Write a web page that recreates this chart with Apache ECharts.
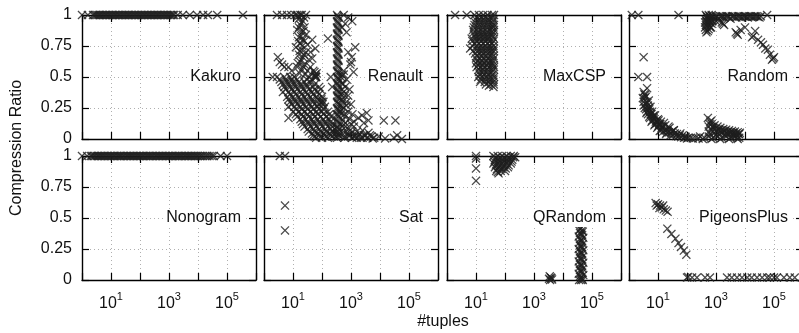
<!DOCTYPE html>
<html><head><meta charset="utf-8">
<script src="https://cdn.jsdelivr.net/npm/echarts@6/dist/echarts.min.js"></script>
<style>html,body{margin:0;padding:0;background:#fff}#c{width:799px;height:333px}</style>
</head><body><div id="c"></div>
<script>
const panelNames = ['Kakuro','Renault','MaxCSP','Random','Nonogram','Sat','QRandom','PigeonsPlus'];
const labeledDecades = [1,3,5];
const yTickValues = [0,0.25,0.5,0.75,1];

const kakuro = [[1,1],[1.6,1],[2.4,1],[2.7,1],[3,1],[3.4,1],[3.8,1],[4.2,1],[4.7,1],[5.3,1],[6,1],[6.7,1],[7.5,1],[8.5,1],[9.5,1],[10.7,1],[12,1],[13.5,1],[15,1],[17,1],[19,1],[21,1],[24,1],[27,1],[30,1],[34,1],[38,1],[42,1],[47,1],[53,1],[60,1],[67,1],[75,1],[85,1],[95,1],[107,1],[120,1],[135,1],[150,1],[170,1],[190,1],[213,1],[240,1],[270,1],[300,1],[340,1],[380,1],[425,1],[470,1],[535,1],[600,1],[675,1],[750,1],[850,1],[950,1],[1070,1],[1200,1],[1350,1],[1500,1],[2000,1],[3000,1],[5200,1],[9300,1],[15000,1],[22000,1],[46000,1],[355000,1]];

const renault = [
[2.8,1],[4.2,1],[6.2,1],[8.7,1],[12,1],[18,1],
[14,1],[20,1],[28,1],[16,0.97],[22,0.95],[18,0.92],[25,0.9],[14,0.88],[20,0.86],[28,0.84],[16,0.82],[22,0.8],[18,0.77],[32,0.76],[12.6,0.74],[20,0.72],[28,0.7],[16,0.68],[22,0.66],[35,0.64],[18,0.62],[25,0.6],[14,0.58],[20,0.56],[32,0.55],
[15,0.99],[24,0.98],[19,0.94],[16,0.9],[23,0.87],[19,0.83],[15,0.79],[25,0.79],[21,0.75],[17,0.71],[24,0.68],[19,0.64],[15,0.61],[23,0.58],[17,0.53],[26,0.52],
[46,0.8],[59,0.73],[46,0.65],[40,0.7],[3,0.66],[3.5,0.62],[4.2,0.6],
[5,0.58],[7,0.58],[40,0.58],[9,0.55],[50,0.55],
[2,0.5],[2.8,0.5],[5,0.5],[8,0.5],[11,0.5],[35,0.5],[56,0.5],[63,0.5],
[58,0.52],[62,0.5],[55,0.54],[65,0.53],[60,0.51],
[4,0.46],[6.3,0.46],[10,0.46],[16,0.46],[25,0.46],[40,0.46],
[3.5,0.48],[5.6,0.48],[9,0.48],[14,0.48],[30,0.48],[45,0.48],
[4.5,0.44],[7,0.44],[11,0.44],[18,0.44],[28,0.44],[56,0.44],
[5,0.42],[8,0.42],[12.6,0.42],[20,0.42],[32,0.42],[50,0.42],[80,0.42],
[5.6,0.4],[9,0.4],[14,0.4],[22,0.4],[36,0.4],[56,0.4],[90,0.4],
[4.5,0.38],[7,0.38],[11,0.38],[18,0.38],[28,0.38],[45,0.38],[70,0.38],
[8,0.36],[12.6,0.36],[20,0.36],[32,0.36],[50,0.36],[80,0.36],
[6.3,0.34],[10,0.34],[16,0.34],[25,0.34],[40,0.34],[63,0.34],[100,0.34],
[7,0.32],[11,0.32],[18,0.32],[28,0.32],[45,0.32],[71,0.32],
[8,0.3],[12.6,0.3],[20,0.3],[32,0.3],[50,0.3],[90,0.3],[100,0.3],[112,0.3],[95,0.32],[105,0.28],
[9,0.28],[14,0.28],[22,0.28],[36,0.28],[56,0.28],[80,0.28],
[7,0.26],[11,0.26],[18,0.26],[28,0.26],[45,0.26],[70,0.26],[126,0.26],
[12.6,0.24],[20,0.24],[32,0.24],[50,0.24],[80,0.24],[112,0.24],
[10,0.22],[16,0.22],[25,0.22],[40,0.22],[63,0.22],[100,0.22],[160,0.22],
[12.6,0.2],[20,0.2],[32,0.2],[50,0.2],[71,0.2],[112,0.2],[180,0.2],
[7,0.17],[14,0.18],[22,0.18],[35,0.18],[56,0.18],[90,0.18],[140,0.18],[200,0.18],
[18,0.16],[28,0.16],[45,0.16],[71,0.16],[112,0.16],[180,0.16],
[20,0.14],[32,0.14],[50,0.14],[80,0.14],[126,0.14],[200,0.14],
[22,0.12],[36,0.12],[56,0.12],[90,0.12],[140,0.12],[224,0.12],
[25,0.1],[40,0.1],[63,0.1],[100,0.1],[160,0.1],[224,0.1],
[32,0.08],[50,0.08],[80,0.08],[126,0.08],[200,0.08],[280,0.08],
[35,0.06],[56,0.06],[90,0.06],[140,0.06],[224,0.06],
[45,0.045],[71,0.045],[112,0.045],[180,0.045],[280,0.045],
[50,0.03],[80,0.03],[126,0.03],[200,0.03],
[56,0.02],[90,0.02],[140,0.02],[224,0.02],[300,0.02],
[63,0.01],[100,0.01],[160,0.01],
[330,1],[330,0.95],[330,0.9],[330,0.85],[330,0.8],[330,0.75],[330,0.7],[330,0.65],[330,0.6],[330,0.55],[330,0.5],[330,0.45],[330,0.4],[330,0.35],[330,0.3],[330,0.25],[330,0.2],[330,0.15],[330,0.1],[330,0.05],[330,0.01],
[370,0.98],[370,0.93],[370,0.88],[370,0.83],[370,0.78],[370,0.73],[370,0.68],[370,0.63],[370,0.58],[370,0.53],[370,0.48],[370,0.43],[370,0.38],[370,0.33],[370,0.28],[370,0.23],[370,0.18],[370,0.13],[370,0.08],[370,0.03],
[350,0.99],[350,0.94],[350,0.89],[350,0.84],[350,0.79],[350,0.74],[350,0.69],[350,0.64],[350,0.59],[350,0.54],[350,0.49],[350,0.44],[350,0.39],[350,0.34],[350,0.29],[350,0.24],[350,0.19],[350,0.14],[350,0.09],[350,0.04],
[560,1],[800,0.98],[1100,0.95],[630,0.93],[160,0.81],[1400,0.74],[200,0.5],[224,0.42],[1070,0.66],[950,0.6],[1230,0.54],[800,0.7],[1000,0.62],[700,0.86],[500,0.9],
[560,0.52],[710,0.48],[500,0.45],[630,0.42],[890,0.4],[560,0.38],[800,0.35],[500,0.32],[710,0.3],[1000,0.28],[560,0.25],[800,0.22],[1120,0.2],[630,0.18],[890,0.16],[1260,0.14],[450,0.5],[450,0.36],[450,0.27],[450,0.2],
[420,0.47],[480,0.4],[420,0.33],[520,0.3],[470,0.24],[600,0.2],[420,0.22],[520,0.15],[650,0.1],[450,0.12],[560,0.06],[750,0.05],[900,0.03],[1100,0.06],[1300,0.02],[700,0.27],[620,0.35],[520,0.44],[560,0.55],[480,0.52],
[500,0.1],[800,0.08],[1260,0.1],[1580,0.06],[2000,0.04],[2500,0.07],[3200,0.03],[4000,0.05],[5000,0.02],[6300,0.01],[1000,0.04],[630,0.02],[1580,0.01],[400,0.05],[2500,0.01],[1000,0.12],[630,0.13],
[450,0.02],[600,0.01],[800,0.03],[1100,0.01],[1400,0.03],[1800,0.02],[2200,0.01],[2800,0.03],[3600,0.01],[4500,0.03],[5600,0.005],
[2400,0.19],[3500,0.21],[4000,0.15],[2800,0.13],[1800,0.17],[13500,0.15],[34000,0.15],[9000,0.02],[15000,0.005],[30000,0.01],[39000,0.03],[57000,0]
];

const maxcsp = [
[1.9,1],[4.8,1],
[8.9,1],[12.6,1],[17.8,1],[25,1],[35.5,1],[41.7,1],
[10.5,0.98],[15,0.98],[21,0.98],[30,0.98],[38,0.98],
[10,0.96],[14,0.96],[20,0.96],[28,0.96],[40,0.96],
[9.5,0.94],[13.3,0.94],[19,0.94],[26.6,0.94],[37.6,0.94],
[8.9,0.92],[12.6,0.92],[17.8,0.92],[25,0.92],[35.5,0.92],[41.7,0.92],
[8.4,0.9],[11.9,0.9],[16.8,0.9],[23.7,0.9],[33.5,0.9],[40,0.9],
[7.9,0.88],[11.2,0.88],[15.8,0.88],[22.4,0.88],[31.6,0.88],[41.7,0.88],
[8.4,0.86],[11.9,0.86],[16.8,0.86],[23.7,0.86],[33.5,0.86],[40,0.86],
[8.9,0.84],[12.6,0.84],[17.8,0.84],[25,0.84],[35.5,0.84],
[9.4,0.825],[13.3,0.825],[18.8,0.825],[26.6,0.825],[37.6,0.825],
[7.1,0.81],[10,0.81],[14,0.81],[20,0.81],[28,0.81],[41.7,0.81],
[7.5,0.79],[10.6,0.79],[15,0.79],[21,0.79],[30,0.79],[40,0.79],
[8.9,0.77],[12.6,0.77],[17.8,0.77],[25,0.77],[35.5,0.77],
[7.5,0.75],[10.6,0.75],[15,0.75],[21,0.75],[30,0.75],[40,0.75],
[6.3,0.73],[11.2,0.73],[15.8,0.73],[22.4,0.73],[31.6,0.73],[41.7,0.73],
[8,0.71],[11.9,0.71],[16.8,0.71],[23.7,0.71],[33.5,0.71],[40,0.71],
[9.3,0.69],[12.6,0.69],[17.8,0.69],[25,0.69],[35.5,0.69],
[10.6,0.67],[15,0.67],[21,0.67],[30,0.67],[40,0.67],
[10,0.65],[14,0.65],[20,0.65],[28,0.65],[41.7,0.65],
[11.2,0.63],[16,0.63],[22,0.63],[31,0.63],[38,0.63],
[10,0.61],[12.6,0.61],[17.8,0.61],[25,0.61],[35.5,0.61],
[11.9,0.595],[16.8,0.595],[23.7,0.595],[33.5,0.595],[40,0.595],
[10.5,0.58],[14,0.58],[20,0.58],[28,0.58],[41.7,0.58],
[12.6,0.56],[17.8,0.56],[25,0.56],[35,0.56],[41,0.56],
[12.6,0.54],[17.8,0.54],[25,0.54],[35.5,0.54],
[13.3,0.52],[18.8,0.52],[26.6,0.52],[37.6,0.52],
[12,0.5],[15.8,0.5],[22.4,0.5],[31.6,0.5],[41.7,0.5],
[15,0.48],[21,0.48],[30,0.48],[40,0.48],
[13.8,0.46],[20,0.46],[28,0.46],[40,0.46],
[22,0.44],[32,0.44],[41,0.44],
[28,0.43],[40,0.42]
];

const random = [
[1.25,1],[2.1,1],[51,1],[58000,1],
[3.2,0.66],[2.1,0.5],[4.2,0.5],
[3.2,0.38],[3.5,0.33],[4,0.3],[3.2,0.3],[4.5,0.27],[3.5,0.25],[5,0.24],[4,0.21],[5.6,0.2],[6.3,0.22],[5,0.18],[7.1,0.17],[7.9,0.19],[6.3,0.15],[8.9,0.15],[10,0.16],[7.9,0.12],[11.2,0.12],[12.6,0.14],[10,0.1],[14,0.1],[17.8,0.11],[12.6,0.07],[17.8,0.07],[25,0.09],[20,0.05],[28,0.05],[35,0.07],[32,0.03],[45,0.04],[50,0.02],[71,0.03],[79,0.01],[112,0.01],[158,0.005],
[4.2,0.41],[3.6,0.355],[4.8,0.31],[3.2,0.27],[5.5,0.26],[4.2,0.22],[7.1,0.19],[10.5,0.15],[16,0.13],[23,0.1],[35,0.07],[59,0.045],[87,0.02],
[3.4,0.36],[3.8,0.34],[3,0.33],[4.3,0.29],[3.7,0.28],[4.7,0.25],[3.9,0.24],[5.3,0.22],[4.5,0.2],[6,0.2],[5.3,0.17],[6.7,0.18],[7.5,0.16],[6,0.14],[8.4,0.14],[9.4,0.13],[7.5,0.11],[10.6,0.11],[12,0.12],[9.4,0.09],[13.3,0.09],[15,0.1],[11.5,0.065],[15,0.06],[21,0.075],[19,0.04],[24,0.055],[30,0.06],[27,0.03],[38,0.045],[42,0.025],[56,0.03],[63,0.015],[89,0.015],[100,0.005],[134,0.01],
[200,0.01],[282,0.02],[398,0.01],[562,0.02],[794,0.01],[1122,0.02],[1585,0.01],[2239,0.02],[3162,0.01],[4467,0.02],[6310,0.01],[6310,0.04],[4000,0.05],[250,0.005],[350,0],[700,0],[1400,0],[2800,0],[5600,0],
[525,0.17],[631,0.14],[708,0.12],[891,0.11],[1122,0.1],[1413,0.09],[1778,0.08],[2239,0.075],[2818,0.07],[3548,0.065],[4467,0.06],[5623,0.055],[6607,0.05],[708,0.07],[1000,0.06],[1585,0.05],[2512,0.04],[3981,0.03],[1000,0.03],[631,0.04],[560,0.1],[800,0.09],[1260,0.07],[2000,0.055],[3200,0.045],[5000,0.035],
[600,0.12],[750,0.1],[950,0.085],[1200,0.08],[1500,0.07],[1900,0.065],[2400,0.055],[3000,0.055],[3800,0.05],[4800,0.045],[6000,0.04],[850,0.05],[1300,0.04],[2100,0.03],[3400,0.02],[5300,0.015],[560,0.06],[700,0.15],
[447,1],[562,1],[708,1],[447,0.96],[562,0.96],[708,0.96],[447,0.92],[562,0.92],[708,0.93],[447,0.88],[525,0.87],[631,0.9],[500,0.98],[630,0.98],[500,0.94],[630,0.94],[800,0.98],
[480,0.99],[600,0.99],[750,0.99],[480,0.95],[600,0.95],[750,0.95],[480,0.91],[600,0.91],[470,0.86],[560,0.885],[680,0.9],[420,0.94],[420,0.9],
[1000,0.99],[1259,0.97],[1585,0.99],[1995,0.98],[2512,0.99],[3162,0.97],[3981,0.99],[5012,0.98],[6310,0.99],[7943,0.98],[10000,0.99],[12589,0.98],[15849,0.99],[19953,0.985],[25119,0.99],[31623,0.98],
[1120,0.985],[1410,0.99],[1780,0.985],[2240,0.99],[2820,0.985],[3550,0.99],[4470,0.985],[5620,0.99],[7080,0.985],[8900,0.99],[11200,0.985],[14100,0.99],[17800,0.985],[22400,0.99],[28200,0.985],[35000,0.99],[1260,0.95],[1000,0.95],
[1738,0.93],[1585,0.94],[1900,0.92],[5248,0.85],[5623,0.84],[4786,0.86],[7079,0.88],[10000,0.9],[17378,0.82],[19055,0.83],[22387,0.87],[28184,0.8],[35481,0.78],[41687,0.76],[50119,0.73],[61660,0.72],[72444,0.68],[93325,0.65],[85114,0.64],[100000,0.66]
];

const nonogram = [[1,1],[1.5,1],[2,1],[2.2,1],[2.5,1],[2.8,1],[3.2,1],[3.6,1],[4,1],[4.5,1],[5,1],[5.6,1],[6.3,1],[7.1,1],[8,1],[9,1],[10,1],[11.2,1],[12.6,1],[14,1],[16,1],[18,1],[20,1],[22,1],[25,1],[28,1],[32,1],[36,1],[40,1],[45,1],[50,1],[56,1],[63,1],[71,1],[80,1],[90,1],[100,1],[112,1],[126,1],[140,1],[160,1],[180,1],[200,1],[225,1],[250,1],[280,1],[320,1],[360,1],[400,1],[450,1],[500,1],[560,1],[630,1],[710,1],[800,1],[900,1],[1000,1],[1120,1],[1260,1],[1400,1],[1600,1],[1800,1],[2000,1],[2250,1],[2500,1],[2800,1],[3200,1],[3600,1],[4000,1],[4500,1],[5000,1],[5600,1],[6300,1],[7100,1],[8000,1],[9000,1],[10000,1],[11500,1],[13000,1],[15000,1],[18000,1],[21000,1],[25000,1],[30000,1],[35000,1],[60000,1],[100000,1]];

const sat = [[3.5,1],[5.3,1],[5.3,0.6],[5.3,0.4]];

const qrandom = [
[10,1],[10,0.98],[10,0.9],[10,0.8],
[40,1],[56,1],[79,1],[112,1],[158,1],[200,1],[224,0.99],[45,0.97],[63,0.97],[89,0.97],[126,0.97],[178,0.97],[40,0.94],[56,0.94],[79,0.94],[112,0.94],[158,0.94],[45,0.91],[63,0.91],[89,0.91],[126,0.91],[50,0.88],[71,0.88],[100,0.88],[60,0.86],
[48,0.985],[67,0.985],[95,0.985],[134,0.985],[190,0.99],[43,0.955],[60,0.955],[84,0.955],[119,0.955],[168,0.955],[48,0.925],[67,0.925],[95,0.925],[134,0.925],[53,0.895],[75,0.895],[106,0.9],[56,0.87],
[3300,0.01],[3800,0.02],[4200,0.005],[3600,0],[4000,0.015],[3500,0.03],
[42000,0.42],[36000,0.4],[48000,0.39],[42000,0.37],[35000,0.35],[50000,0.34],[42000,0.32],[36000,0.3],[48000,0.29],[42000,0.27],[35000,0.25],[50000,0.24],[42000,0.22],[36000,0.2],[48000,0.19],[42000,0.17],[35000,0.15],[50000,0.14],[42000,0.12],[36000,0.1],[48000,0.09],[42000,0.07],[35000,0.05],[50000,0.04],[42000,0.02],[36000,0],[48000,0],[42000,0],
[38500,0.41],[45500,0.4],[38500,0.38],[45500,0.36],[38500,0.33],[45500,0.31],[38500,0.28],[45500,0.26],[38500,0.23],[45500,0.21],[38500,0.18],[45500,0.16],[38500,0.13],[45500,0.11],[38500,0.08],[45500,0.06],[38500,0.03],[45500,0.01]
];

const pigeons = [
[8.3,0.62],[10,0.61],[11.7,0.6],[13.5,0.585],[15.8,0.57],[18.6,0.56],[21.4,0.55],[11.2,0.58],[15,0.6],[9,0.6],
[21,0.414],[29,0.371],[40,0.333],[51,0.298],[62,0.266],[78,0.237],[95,0.204],
[100,0.02],[110,0.025],[150,0.02],[220,0.02],[420,0.02],[620,0.02],[2400,0.02],[3500,0.02],[5300,0.02],[7900,0.02],[12000,0.02],[17000,0.02],[26000,0.02],[39000,0.02],[58000,0.02],[72000,0.02],[100000,0.02],[126000,0.02],[220000,0.02],[350000,0.02],[520000,0.02]
];

const panelData = [kakuro, renault, maxcsp, random, nonogram, sat, qrandom, pigeons];

const colLeft = [82, 264, 447, 629];
const rowTop = [15, 156];
const W = 174, H = 124;
const FONT = '"Liberation Sans", Arial, sans-serif';
const INK = '#111';
const cross = 'path://M0,1L1,0L5,4L9,0L10,1L6,5L10,9L9,10L5,6L1,10L0,9L4,5Z';

const grids = [], xAxes = [], yAxes = [], series = [], graphics = [];
const lineStyle = {color:'#000', width:1.4};
const tick = {show:true, inside:true, length:7, lineStyle:{color:'#000', width:1.2}};
const split = {show:true, lineStyle:{color:'#b0b0b0', width:1, type:[1,3]}};

panelNames.forEach((name, i) => {
  const r = Math.floor(i/4), c = i % 4;
  grids.push({left: colLeft[c], top: rowTop[r], width: W, height: H, containLabel:false, outerBoundsMode:'none'});
  const xBase = {gridIndex:i, type:'log', logBase:10, min:1, max:1e6, splitNumber:6,
    axisLine:{show:true, onZero:false, lineStyle}, axisTick:tick};
  xAxes.push(Object.assign({}, xBase, {position:'bottom', splitLine:split,
    axisLabel:{show: r===1, interval:0, margin:11, color:INK, fontFamily:FONT,
      formatter: v => { const e = Math.round(Math.log10(v)); return labeledDecades.includes(e) ? '{b|10}{s|' + e + '}' : ''; },
      rich:{ b:{fontSize:16, lineHeight:21, verticalAlign:'bottom', fontFamily:FONT, color:INK},
             s:{fontSize:11, lineHeight:11, verticalAlign:'top', fontFamily:FONT, color:INK} } } }));
  xAxes.push(Object.assign({}, xBase, {position:'top', splitLine:{show:false}, axisLabel:{show:false}}));
  const yBase = {gridIndex:i, type:'value', min:0, max:1, interval:0.25,
    axisLine:{show:true, onZero:false, lineStyle}, axisTick:tick};
  yAxes.push(Object.assign({}, yBase, {position:'left', splitLine:split,
    axisLabel:{show: c===0, margin:10, fontSize:16, color:INK, fontFamily:FONT,
      formatter: v => yTickValues.includes(v) ? String(v) : ''}}));
  yAxes.push(Object.assign({}, yBase, {position:'right', splitLine:{show:false}, axisLabel:{show:false}}));
  series.push({type:'scatter', xAxisIndex:2*i, yAxisIndex:2*i, data: panelData[i],
    symbol: cross, symbolSize: 9, itemStyle:{color:'#1e1e1e'}, clip:false, silent:true, z:3});
  graphics.push({type:'text', x: colLeft[c] + W - 12, y: rowTop[r] + H/2, z: 100,
    style:{text:name, font:'16px ' + FONT, fill:INK, align:'right', verticalAlign:'middle',
      backgroundColor:'#fff', padding:[1,3]}});
});

graphics.push({type:'text', x:17, y:148, rotation:Math.PI/2, z:100,
  style:{text:'Compression Ratio', font:'16px ' + FONT, fill:INK, align:'center', verticalAlign:'middle'}});
graphics.push({type:'text', x:443, y:322, z:100,
  style:{text:'#tuples', font:'16px ' + FONT, fill:INK, align:'center', verticalAlign:'middle'}});

const chart = echarts.init(document.getElementById('c'), null, {renderer:'canvas'});
chart.setOption({animation:false, backgroundColor:'#fff', grid:grids, xAxis:xAxes, yAxis:yAxes, series, graphic:graphics});
</script></body></html>
